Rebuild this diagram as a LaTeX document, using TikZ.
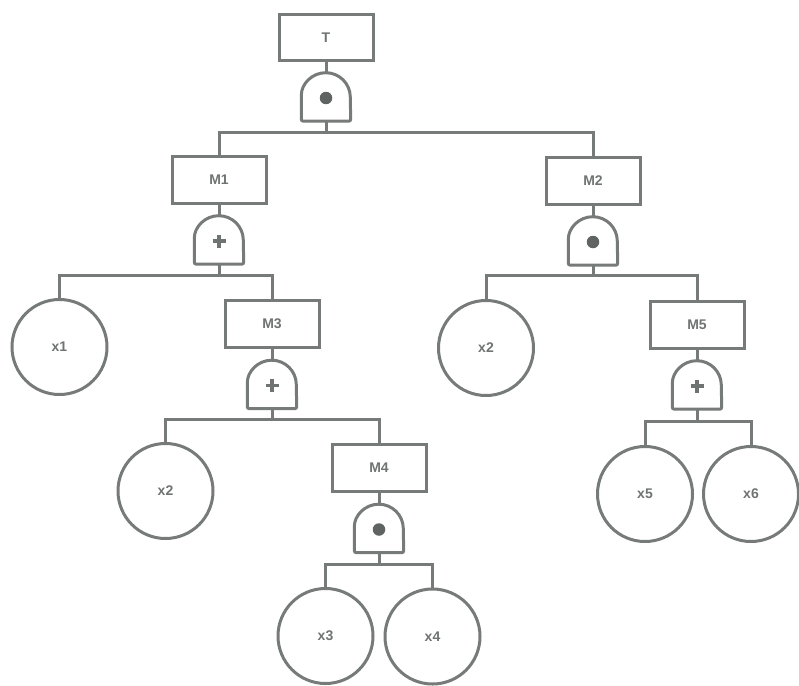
\documentclass[tikz,border=0pt]{standalone}
\usepackage{fontspec}
\setmainfont{Liberation Sans}
\definecolor{ink}{HTML}{767A78}
\definecolor{txt}{HTML}{6F7371}
\definecolor{dotc}{HTML}{5F6361}
\tikzset{
  line/.style={draw=ink,line width=3pt},
  evbox/.style={line,rectangle,minimum width=94pt,minimum height=46.5pt,inner sep=0pt,
    text=txt,font=\bfseries\fontsize{14}{16}\selectfont},
  basic/.style={line,circle,minimum size=95pt,inner sep=0pt,text=txt,
    font=\bfseries\fontsize{14}{16}\selectfont},
  gatebox/.style={rectangle,minimum width=49pt,minimum height=48pt,inner sep=0pt,
    text=txt,font=\bfseries\fontsize{20}{20}\selectfont},
  andmark/.style={circle,fill=dotc,minimum size=12.5pt,inner sep=0pt},
  ormark/.style={draw=txt,line width=3.2pt}
}
\newcommand{\gatedome}[1]{%
  \draw[line,rounded corners=2pt] (#1.south west) -- ++(0,-24) [sharp corners] arc[start angle=180,end angle=0,radius=24.5pt]
    [rounded corners=2pt] -- (#1.south east) -- cycle;}
\newcommand{\andgate}[2]{%
  \node[gatebox] (#1) at (#2) {};
  \gatedome{#1}
  \node[andmark] (#1m) at ([yshift=-1pt]#1.center) {};}
\newcommand{\orgate}[2]{%
  \node[gatebox] (#1) at (#2) {};
  \gatedome{#1}
  \node[gatebox,minimum width=14pt,minimum height=14pt] (#1m) at ([yshift=-1pt]#1.center) {};
  \draw[ormark] (#1m.center) ++(-6.5pt,0) -- ++(13pt,0);
  \draw[ormark] (#1m.center) ++(0,-6.5pt) -- ++(0,13pt);}
\begin{document}
\begin{tikzpicture}[x=1pt,y=-1pt]
\useasboundingbox (0,0) rectangle (799,685);
% events
\node[evbox] (T) at (326,37.5) {T};
\node[evbox] (M1) at (219,180) {M1};
\node[evbox] (M2) at (593,181) {M2};
\node[evbox] (M3) at (272,324) {M3};
\node[evbox] (M5) at (697,325) {M5};
\node[evbox] (M4) at (379,468) {M4};
% gates
\andgate{GT}{326,97}
\orgate{G1}{219,240}
\andgate{G2}{593,241}
\orgate{G3}{272,384.5}
\orgate{G5}{697,385}
\andgate{G4}{379,528.5}
% basic events
\node[basic] (x1) at (59.5,347) {x1};
\node[basic] (x2a) at (165.5,491) {x2};
\node[basic] (x2b) at (486,348) {x2};
\node[basic] (x5) at (645,494) {x5};
\node[basic] (x6) at (751,494) {x6};
\node[basic] (x3) at (325.5,636) {x3};
\node[basic] (x4) at (432.5,636.5) {x4};
% buses
\coordinate (bT) at (326,132);
\coordinate (b1) at (219,275);
\coordinate (b2) at (593,275);
\coordinate (b3) at (272,419.5);
\coordinate (b5) at (697,421);
\coordinate (b4) at (379,564);
% connectors
\foreach \e/\g/\b in {T/GT/bT,M1/G1/b1,M2/G2/b2,M3/G3/b3,M5/G5/b5,M4/G4/b4}{
  \draw[line] (\e.south) -- (\g.north);
  \draw[line] (\g.south) -- (\b);
}
\draw[line] (M1.north) |- (bT) -| (M2.north);
\draw[line] (x1.north) |- (b1) -| (M3.north);
\draw[line] (x2b.north) |- (b2) -| (M5.north);
\draw[line] (x2a.north) |- (b3) -| (M4.north);
\draw[line] (x5.north) |- (b5) -| (x6.north);
\draw[line] (x3.north) |- (b4) -| (x4.north);
\end{tikzpicture}
\end{document}
